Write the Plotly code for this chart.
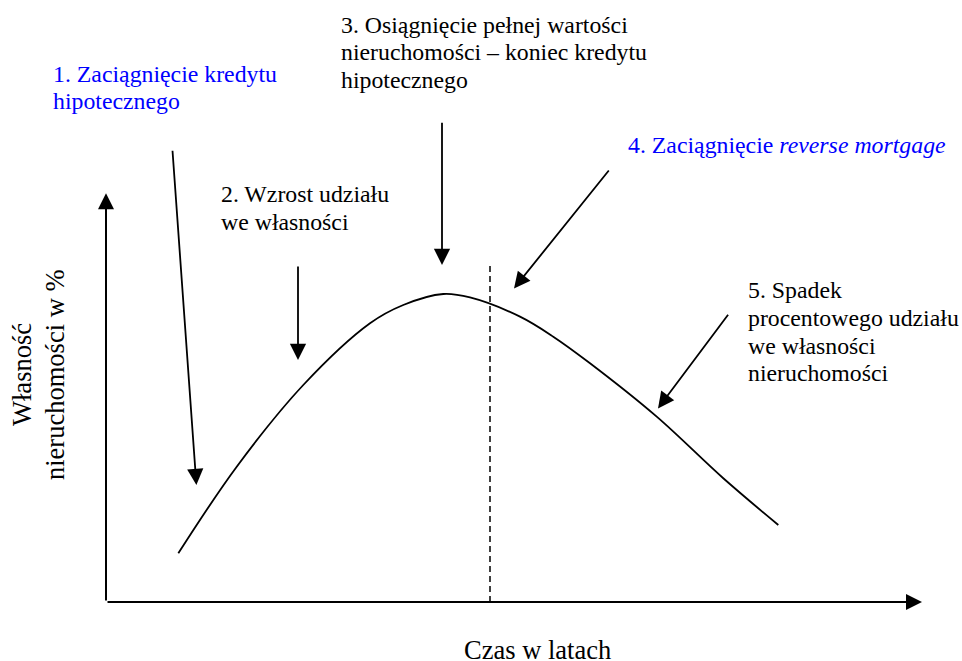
import plotly.graph_objects as go

# ---------------- data (schematic units: time, ownership %) ----------------
time_years = [9.04, 16.34, 24.66, 33.0, 37.16, 42.16, 45.5, 51.75, 55.91,
              60.5, 68.84, 77.16, 84.04]
ownership_pct = [12.18, 33.83, 54.25, 69.68, 74.25, 77.0, 76.13, 71.33, 66.33,
                 59.68, 46.33, 30.93, 19.25]

reverse_mortgage_time = 48.0
reverse_mortgage_top = 84.75

axis_x_end = 102.0
axis_y_end = 102.2

# label arrows: tail -> head
arrow_tail_x = [8.3, 24.0, 42.0, 63.0, 77.9]
arrow_tail_y = [113.2, 84.25, 120.2, 108.25, 72.2]
arrow_head_x = [11.3, 24.0, 42.0, 51.0, 69.0]
arrow_head_y = [29.25, 60.5, 84.25, 78.4, 48.4]

label_lines = [
    "1. Zaciągnięcie kredytu", "hipotecznego",
    "2. Wzrost udziału", "we własności",
    "3. Osiągnięcie pełnej wartości", "nieruchomości – koniec kredytu", "hipotecznego",
    "4. Zaciągnięcie <i>reverse mortgage</i>",
    "5. Spadek", "procentowego udziału", "we własności", "nieruchomości",
]
y_title_lines = ["Własność", "nieruchomości w %"]
x_title = "Czas w latach"

# ---------------- layout helpers ----------------
W, H = 962, 661
X0_PX, Y0_PX, SX, SY = 106, 602, 8.0, 4.0  # axis origin px, px per unit
x_range = [-X0_PX / SX, (W - X0_PX) / SX]
y_range = [(Y0_PX - H) / SY, Y0_PX / SY]

BLUE = "#0000ff"
BLACK = "#000000"
FONT = "Liberation Serif, Times New Roman, serif"

# left px, middle px, colour for each label line (reference-image pixels)
label_pos = [
    (53, 74, BLUE), (53, 101, BLUE),
    (221, 194, BLACK), (221, 222, BLACK),
    (341, 25, BLACK), (341, 52, BLACK), (341, 80, BLACK),
    (628, 145, BLUE),
    (748, 290, BLACK), (748, 318, BLACK), (748, 346, BLACK), (748, 373, BLACK),
]


def px_to_paper(px, py):
    return px / W, 1 - py / H


fig = go.Figure()

fig.add_trace(go.Scatter(
    x=time_years, y=ownership_pct, mode="lines",
    line=dict(color=BLACK, width=1.8, shape="spline", smoothing=1.0),
    hoverinfo="skip", showlegend=False,
))

fig.add_trace(go.Scatter(
    x=[reverse_mortgage_time, reverse_mortgage_time], y=[0, reverse_mortgage_top],
    mode="lines", line=dict(color=BLACK, width=1.5, dash="6px,4px"),
    hoverinfo="skip", showlegend=False,
))

annotations = []
# axes with arrow heads
for hx, hy in [(axis_x_end, 0), (0, axis_y_end)]:
    annotations.append(dict(x=hx, y=hy, ax=0, ay=0, xref="x", yref="y",
                            axref="x", ayref="y", text="", showarrow=True,
                            arrowhead=2, arrowwidth=2, arrowsize=1.6,
                            arrowcolor=BLACK, standoff=0))
# label arrows
for tx, ty, hx, hy in zip(arrow_tail_x, arrow_tail_y, arrow_head_x, arrow_head_y):
    annotations.append(dict(x=hx, y=hy, ax=tx, ay=ty, xref="x", yref="y",
                            axref="x", ayref="y", text="", showarrow=True,
                            arrowhead=2, arrowwidth=1.8, arrowsize=1.8,
                            arrowcolor=BLACK, standoff=0))
# label texts
for txt, (px, py, col) in zip(label_lines, label_pos):
    xp, yp = px_to_paper(px - 2, py)
    annotations.append(dict(x=xp, y=yp, xref="paper", yref="paper",
                            xanchor="left", yanchor="middle", text=txt,
                            showarrow=False, font=dict(family=FONT, size=23.8, color=col)))
# y title (rotated)
for txt, px in zip(y_title_lines, [22, 55]):
    xp, yp = px_to_paper(px, 375)
    annotations.append(dict(x=xp, y=yp, xref="paper", yref="paper",
                            xanchor="center", yanchor="middle", text=txt, textangle=-90,
                            showarrow=False, font=dict(family=FONT, size=26.5, color=BLACK)))
# x title
xp, yp = px_to_paper(537.5, 650)
annotations.append(dict(x=xp, y=yp, xref="paper", yref="paper",
                        xanchor="center", yanchor="middle", text=x_title,
                        showarrow=False, font=dict(family=FONT, size=26.5, color=BLACK)))

fig.update_layout(
    width=W, height=H,
    margin=dict(l=0, r=0, t=0, b=0),
    paper_bgcolor="white", plot_bgcolor="white",
    xaxis=dict(range=x_range, visible=False, fixedrange=True),
    yaxis=dict(range=y_range, visible=False, fixedrange=True),
    annotations=annotations,
    showlegend=False,
)

fig.write_html(
    "out.html",
    config={"displayModeBar": False},
    post_script="document.body.style.margin='0';document.body.style.overflow='hidden';",
)
